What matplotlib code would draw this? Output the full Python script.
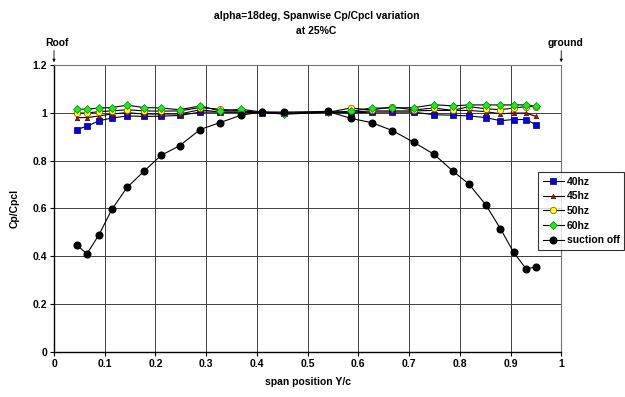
import numpy as np
import matplotlib
matplotlib.use('Agg')
import matplotlib.pyplot as plt

plt.rcParams['font.family'] = ['Liberation Sans', 'DejaVu Sans']
plt.rcParams['font.weight'] = 'bold'

# span positions shared by every series
span = [0.045, 0.065, 0.089, 0.114, 0.144, 0.177, 0.211, 0.248, 0.288, 0.327,
        0.369, 0.410, 0.454, 0.540, 0.585, 0.626, 0.667, 0.709, 0.749, 0.786,
        0.818, 0.851, 0.880, 0.906, 0.931, 0.950]

hz40 = [0.930, 0.944, 0.967, 0.978, 0.987, 0.985, 0.986, 0.989, 1.003, 1.003,
        1.003, 1.000, 0.998, 1.002, 0.999, 1.003, 1.003, 1.003, 0.992, 0.990,
        0.987, 0.980, 0.967, 0.972, 0.972, 0.950]
hz45 = [0.980, 0.980, 0.987, 0.995, 1.001, 0.995, 0.995, 0.995, 1.013, 1.003,
        1.003, 1.000, 0.998, 1.002, 1.003, 1.008, 1.008, 1.008, 1.010, 1.010,
        1.010, 1.005, 0.996, 0.999, 0.999, 0.985]
hz50 = [0.999, 0.999, 1.005, 1.008, 1.013, 1.008, 1.007, 1.008, 1.022, 1.015,
        1.008, 1.002, 0.998, 1.002, 1.020, 1.012, 1.025, 1.012, 1.020, 1.010,
        1.026, 1.017, 1.013, 1.020, 1.026, 1.026]
hz60 = [1.015, 1.015, 1.020, 1.022, 1.032, 1.022, 1.020, 1.013, 1.029, 1.008,
        1.015, 1.003, 0.994, 1.003, 1.006, 1.020, 1.020, 1.022, 1.034, 1.029,
        1.033, 1.033, 1.033, 1.033, 1.033, 1.027]
suction = [0.446, 0.411, 0.491, 0.596, 0.688, 0.755, 0.822, 0.863, 0.930, 0.959,
           0.990, 1.004, 1.003, 1.006, 0.977, 0.959, 0.926, 0.877, 0.827, 0.757,
           0.702, 0.616, 0.516, 0.417, 0.347, 0.356]

xticks = np.round(np.arange(0, 1.01, 0.1), 1)
yticks = np.round(np.arange(0, 1.21, 0.2), 1)

fig = plt.figure(figsize=(6.25, 3.97), dpi=100)
ax = fig.add_axes([0.0864, 0.1134, 0.8116, 0.7229])

lw = 0.8
ax.plot(span, hz40, '-s', color='k', lw=lw, ms=4.2, mfc='#0000ff', mec='#000060', mew=0.5, label='40hz')
ax.plot(span, hz45, '-^', color='k', lw=lw, ms=3.2, mfc='#e00000', mec='#500000', mew=0.5, label='45hz')
ax.plot(span, hz50, '-o', color='k', lw=lw, ms=4.6, mfc='#ffff00', mec='#606000', mew=0.5, label='50hz')
ax.plot(span, hz60, '-D', color='k', lw=lw, ms=3.8, mfc='#00ff00', mec='#306030', mew=0.5, label='60hz')
ax.plot(span, suction, '-o', color='k', lw=lw, ms=4.8, mfc='k', mec='k', label='suction off')

ax.set_xlim(0, 1)
ax.set_ylim(0, 1.2)
ax.set_xticks(xticks)
ax.set_yticks(yticks)
ax.set_xticklabels(['%g' % v for v in xticks])
ax.set_yticklabels(['%g' % v for v in yticks])
ax.tick_params(direction='out', length=3, width=0.8, labelsize=7.5, pad=2)
ax.grid(True, color='0.25', lw=0.7)
ax.set_axisbelow(True)
for s in ['top', 'right']:
    ax.spines[s].set_color('0.45')
    ax.spines[s].set_linewidth(0.8)
for s in ['left', 'bottom']:
    ax.spines[s].set_color('k')
    ax.spines[s].set_linewidth(1.0)

ax.set_xlabel('span position Y/c', fontsize=7.5, fontweight='bold', labelpad=6)
ax.set_ylabel('Cp/Cpcl', fontsize=7.5, fontweight='bold', labelpad=9)

fig.text(0.506, 1 - 15.7 / 397, 'alpha=18deg, Spanwise Cp/Cpcl variation',
         ha='center', va='center', fontsize=7.5, fontweight='bold')
fig.text(0.506, 1 - 30.7 / 397, 'at 25%C', ha='center', va='center',
         fontsize=7.5, fontweight='bold')

# Roof / ground markers with arrows
for xv in [0.0, 1.0]:
    ax.annotate('', xy=(xv, 1.2), xytext=(xv, 1.272),
                arrowprops=dict(arrowstyle='-|>', lw=0.6, color='k', mutation_scale=4),
                annotation_clip=False)
ax.text(0.005, 1.293, 'Roof', ha='center', va='center', fontsize=7.5, fontweight='bold')
ax.text(1.009, 1.293, 'ground', ha='center', va='center', fontsize=7.5, fontweight='bold')

leg = ax.legend(loc='upper left', bbox_to_anchor=(0.861, 0.567),
                bbox_transform=fig.transFigure, borderaxespad=0,
                fontsize=7.5, frameon=True, fancybox=False, handlelength=2.0,
                labelspacing=0.45, handletextpad=0.3, borderpad=0.45)
leg.get_frame().set_edgecolor('k')
leg.get_frame().set_linewidth(0.8)
for t in leg.get_texts():
    t.set_fontweight('bold')

fig.savefig('out.png', dpi=100)
